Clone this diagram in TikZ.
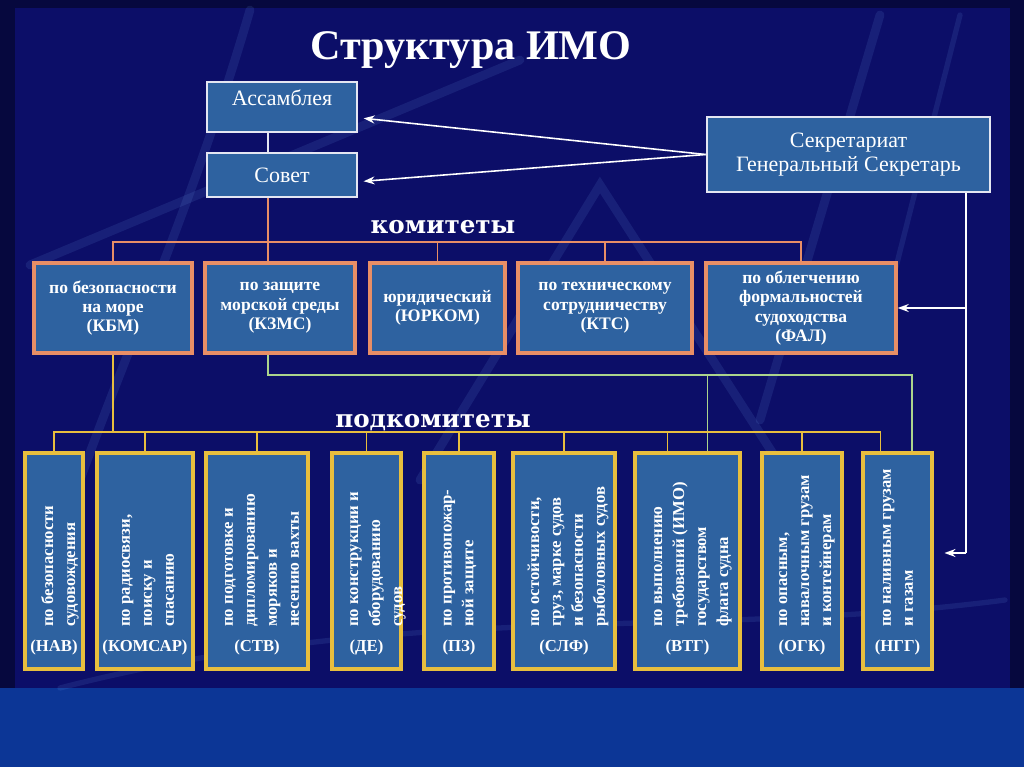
\documentclass[tikz,border=0pt]{standalone}
\usepackage{fontspec}
\setmainfont{Liberation Serif}
\newfontfamily\labelfont{DejaVu Serif}
\usetikzlibrary{arrows.meta,positioning}

\definecolor{slidebg}{RGB}{12,54,150}
\definecolor{slidedark}{RGB}{6,8,62}
\definecolor{slidenavy}{RGB}{12,14,104}
\definecolor{boxfill}{RGB}{46,98,160}
\definecolor{topborder}{RGB}{228,230,242}
\definecolor{comborder}{RGB}{232,142,102}
\definecolor{subborder}{RGB}{232,190,62}
\definecolor{greenline}{RGB}{172,212,140}
\definecolor{streak}{RGB}{110,160,235}

\begin{document}
\begin{tikzpicture}[
  x=0.02cm, y=-0.02cm,
  topbox/.style={draw=topborder, line width=1.6pt, fill=boxfill, text=white,
    inner sep=0pt, align=center, font=\fontsize{12.5}{14}\selectfont},
  combox/.style={draw=comborder, line width=2pt, fill=boxfill, text=white,
    inner sep=0pt, align=center, minimum height=1.8cm,
    font=\fontsize{10}{11}\selectfont\bfseries},
  subbox/.style={draw=subborder, line width=2.2pt, fill=boxfill, inner sep=0pt,
    minimum height=4.32cm},
  subtext/.style={rotate=90, anchor=west, align=left, inner sep=0pt, text=white,
    font=\fontsize{9.5}{12.5}\selectfont\bfseries},
  subabbr/.style={text=white, inner sep=0pt, font=\fontsize{9.5}{10}\selectfont\bfseries},
  heading/.style={text=white, anchor=base, inner sep=0pt,
    font=\labelfont\bfseries\fontsize{14}{16}\selectfont},
  wline/.style={draw=white, line width=0.9pt},
  warrow/.style={wline, -{Stealth[length=2.2mm, width=1.6mm]}},
  kline/.style={draw=comborder, line width=1pt},
  yline/.style={draw=subborder, line width=1pt},
  gline/.style={draw=greenline, line width=1pt},
  streakline/.style={draw=streak, line width=5pt, opacity=0.13, line cap=round}
]
\useasboundingbox (0,0) rectangle (1024,767);
\fill[slidebg] (0,0) rectangle (1024,767);
\fill[slidedark] (0,0) rectangle (1024,688);
\fill[slidenavy] (15,8) rectangle (1010,688);

\draw[streakline] (30,265) -- (520,60);
\draw[streakline] (250,10) .. controls (180,250) and (100,400) .. (40,600);
\draw[streakline] (420,480) -- (600,185) -- (790,480);
\draw[streakline] (880,15) -- (760,420);
\draw[streakline, line width=3pt] (960,15) -- (880,330);
\draw[streakline, line width=3pt] (60,688) .. controls (400,600) and (700,640) .. (1005,600);

\node[text=white, anchor=base, inner sep=0pt,
  font=\bfseries\fontsize{24}{28}\selectfont] (title) at (471,60) {Структура ИМО};

\node[topbox, minimum width=3cm, minimum height=1cm,
  text height=9pt, text depth=10.5pt] (assembly) at (282,107) {Ассамблея};
\node[topbox, minimum width=3cm, minimum height=0.88cm] (council) at (282,175) {Совет};
\node[topbox, minimum width=5.66cm, minimum height=1.5cm,
  font=\fontsize{12.5}{13.5}\selectfont] (secretariat) at (848.5,154.5) {Секретариат\\Генеральный Секретарь};

\node[heading] (committees-label) at (443,233) {комитеты};
\node[combox, minimum width=3.16cm] (msc) at (113,308) {по безопасности\\на море\\(КБМ)};
\node[combox, minimum width=3cm] (mepc) at (280,308) {по защите\\морской среды\\(КЗМС)};
\node[combox, minimum width=2.7cm] (leg) at (437.5,308) {юридический\\(ЮРКОМ)};
\node[combox, minimum width=3.48cm] (tc) at (605,308) {по техническому\\сотрудничеству\\(КТС)};
\node[combox, minimum width=3.8cm] (fal) at (801,308) {по облегчению\\формальностей\\судоходства\\(ФАЛ)};

\node[heading] (subcommittees-label) at (433,427) {подкомитеты};
\node[subbox, minimum width=1.16cm] (nav) at (54,561) {};
\node[subtext] (nav-text) at (60,627) {по безопасности\\судовождения};
\node[subabbr] (nav-abbr) at (54,647) {(НАВ)};
\node[subbox, minimum width=1.92cm] (comsar) at (145,561) {};
\node[subtext] (comsar-text) at (148,627) {по радиосвязи,\\поиску и\\спасанию};
\node[subabbr] (comsar-abbr) at (145,647) {(КОМСАР)};
\node[subbox, minimum width=2.04cm] (stw) at (257,561) {};
\node[subtext] (stw-text) at (262,627) {по подготовке и\\дипломированию\\моряков и\\несению вахты};
\node[subabbr] (stw-abbr) at (257,647) {(СТВ)};
\node[subbox, minimum width=1.38cm] (de) at (366.5,561) {};
\node[subtext] (de-text) at (378,627) {по конструкции и\\оборудованию\\судов};
\node[subabbr] (de-abbr) at (366.5,647) {(ДЕ)};
\node[subbox, minimum width=1.4cm] (fp) at (459,561) {};
\node[subtext] (fp-text) at (460,627) {по противопожар-\\ной защите};
\node[subabbr] (fp-abbr) at (459,647) {(ПЗ)};
\node[subbox, minimum width=2.04cm] (slf) at (564,561) {};
\node[subtext] (slf-text) at (568,627) {по остойчивости,\\груз, марке судов\\и безопасности\\рыболовных судов};
\node[subabbr] (slf-abbr) at (564,647) {(СЛФ)};
\node[subbox, minimum width=2.1cm] (fsi) at (687.5,561) {};
\node[subtext] (fsi-text) at (693,627) {по выполнению\\требований (ИМО)\\государством\\флага судна};
\node[subabbr] (fsi-abbr) at (687.5,647) {(ВТГ)};
\node[subbox, minimum width=1.6cm] (dsc) at (802,561) {};
\node[subtext] (dsc-text) at (807,627) {по опасным,\\навалочным грузам\\и контейнерам};
\node[subabbr] (dsc-abbr) at (802,647) {(ОГК)};
\node[subbox, minimum width=1.38cm] (blg) at (897.5,561) {};
\node[subtext] (blg-text) at (898,627) {по наливным грузам\\и газам};
\node[subabbr] (blg-abbr) at (897.5,647) {(НГГ)};

\coordinate (kbus) at (268,242);
\coordinate (gbus) at (912,375);
\coordinate (ybus) at (113,432);
\coordinate (secdown) at (966,553);

\draw[wline, draw=topborder] (assembly.south -| kbus) -- (council.north -| kbus);
\draw[warrow, shorten >=3pt] (secretariat.west) -- (assembly.-8);
\draw[warrow, shorten >=3pt] (secretariat.west) -- (council.-5);
\draw[wline] (secretariat.south -| secdown) -- (secdown);
\draw[warrow] (fal.east -| secdown) -- (fal.east);
\draw[warrow, shorten >=6pt] (secdown) -- (secdown -| blg.east);

\draw[kline] (council.south -| kbus) -- (kbus);
\draw[kline] (msc.north) |- (fal.north |- kbus) -- (fal.north);
\draw[kline] (kbus) -- (kbus |- mepc.north);
\draw[kline] (leg.north) -- (leg.north |- kbus);
\draw[kline] (tc.north) -- (tc.north |- kbus);

\draw[gline] (mepc.south -| kbus) |- (gbus) -- (gbus |- blg.north);
\draw[gline] ([xshift=0.4cm]fsi.north) -- ([xshift=0.4cm]fsi.north |- gbus);

\draw[yline] (msc.south) -- (ybus);
\draw[yline] (nav.north) |- ([xshift=-0.34cm]blg.north |- ybus) -- ([xshift=-0.34cm]blg.north);
\draw[yline] (comsar.north) -- (comsar.north |- ybus);
\draw[yline] (stw.north) -- (stw.north |- ybus);
\draw[yline] (de.north) -- (de.north |- ybus);
\draw[yline] (fp.north) -- (fp.north |- ybus);
\draw[yline] (slf.north) -- (slf.north |- ybus);
\draw[yline] ([xshift=-0.4cm]fsi.north) -- ([xshift=-0.4cm]fsi.north |- ybus);
\draw[yline] (dsc.north) -- (dsc.north |- ybus);
\end{tikzpicture}
\end{document}
